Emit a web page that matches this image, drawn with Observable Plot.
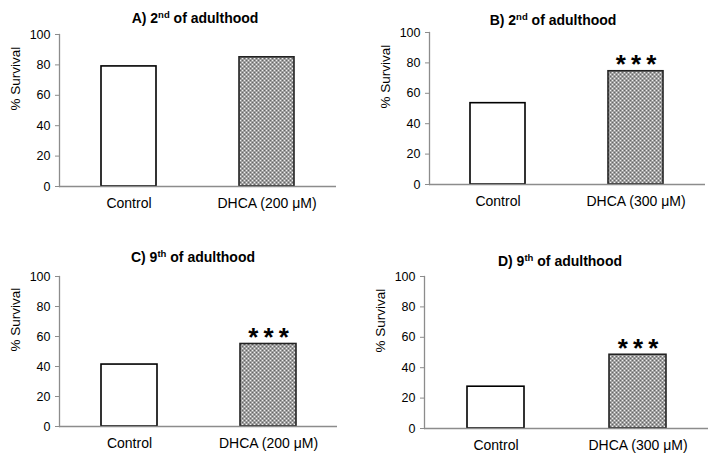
<!DOCTYPE html>
<html><head><meta charset="utf-8">
<script src="https://cdn.jsdelivr.net/npm/d3@7"></script>
<script src="https://cdn.jsdelivr.net/npm/@observablehq/plot@0.6"></script>
<style>
body{margin:0;background:#fff;font-family:"Liberation Sans",Arial,sans-serif;}
#root{position:relative;width:719px;height:461px;overflow:hidden;background:#fff}
.panel{position:absolute}
.title{position:absolute;font-weight:bold;font-size:14px;line-height:14px;white-space:nowrap;transform:translateX(-50%);color:#000}
.title sup{font-size:9.5px;line-height:9px;position:relative;top:-5px;vertical-align:baseline}
</style>
</head><body>
<div id="root"></div>
<script>
// ---- data ----
const panelLabels = ["A", "B", "C", "D"];
const dayNumbers = ["2", "2", "9", "9"];
const daySuffixes = ["nd", "nd", "th", "th"];
const doseLabels = ["200 μM", "300 μM", "200 μM", "300 μM"];
const controlSurvival = [79, 53.5, 41.3, 27.5];
const dhcaSurvival = [85, 74.5, 55, 48.5];
const significance = ["", "***", "***", "***"];
const yTicks = [0, 20, 40, 60, 80, 100];
const yLabel = "% Survival";

// ---- layout ----
const layout = [
  {left: 0,   top: 0,   width: 360, height: 230, ml: 59, mt: 34, mb: 44, mr: 24, tx: 195, ty: 23},
  {left: 360, top: 0,   width: 359, height: 230, ml: 69, mt: 32, mb: 46, mr: 14, tx: 193, ty: 25},
  {left: 0,   top: 230, width: 360, height: 231, ml: 59, mt: 46, mb: 35, mr: 23, tx: 193, ty: 32},
  {left: 360, top: 230, width: 359, height: 231, ml: 64, mt: 46, mb: 33, mr: 11, tx: 200, ty: 36}
];
const axisGray = "#8c8c8c";
const root = document.getElementById("root");

panelLabels.forEach((p, i) => {
  const L = layout[i];
  const data = [
    {label: "Control", v: controlSurvival[i]},
    {label: `DHCA (${doseLabels[i]})`, v: dhcaSurvival[i]}
  ];
  const chart = Plot.plot({
    width: L.width, height: L.height,
    marginLeft: L.ml, marginTop: L.mt, marginBottom: L.mb, marginRight: L.mr,
    style: {fontFamily: "'Liberation Sans', Arial, sans-serif", fontSize: "12px", color: "#000", background: "transparent", overflow: "visible"},
    x: {domain: data.map(d => d.label), paddingInner: 0.6, paddingOuter: 0.3, axis: null},
    y: {domain: [0, 100], axis: null},
    marks: [
      Plot.barY(data.slice(0, 1), {x: "label", y: "v", fill: "white", stroke: "#000", strokeWidth: 1.6}),
      Plot.barY(data.slice(1), {x: "label", y: "v", fill: `url(#hatch${i})`, stroke: "#222", strokeWidth: 1.6}),
      Plot.ruleY([0], {stroke: axisGray, strokeWidth: 1.3}),
      Plot.frame({anchor: "left", stroke: axisGray, strokeWidth: 1.3}),
      Plot.axisY({ticks: yTicks, tickSize: 4, tickPadding: 5, stroke: axisGray, fill: "#000", label: null, fontSize: 12.5}),
      Plot.axisX({tickSize: 0, tickPadding: 12, fill: "#000", label: null, fontSize: 14}),
      Plot.text([yLabel], {frameAnchor: "left", dx: -44, rotate: -90, fontSize: 13.5, fill: "#000"}),
      Plot.text(data.slice(1), {x: "label", y: "v", text: () => significance[i].split("").join("\u2009"), dy: 2, lineAnchor: "bottom", fontSize: 26, fontWeight: "bold", fill: "#000"})
    ]
  });
  // hatch pattern
  const svg = d3.select(chart);
  const pat = svg.insert("defs", ":first-child").append("pattern")
    .attr("id", `hatch${i}`).attr("patternUnits", "userSpaceOnUse")
    .attr("width", 4).attr("height", 4);
  pat.append("rect").attr("width", 4).attr("height", 4).attr("fill", "#a0a0a0");
  pat.append("rect").attr("x", 0).attr("y", 0).attr("width", 1).attr("height", 1).attr("fill", "#eeeeee");
  pat.append("rect").attr("x", 2).attr("y", 2).attr("width", 1).attr("height", 1).attr("fill", "#eeeeee");
  pat.append("rect").attr("x", 2).attr("y", 0).attr("width", 1).attr("height", 1).attr("fill", "#666666");
  pat.append("rect").attr("x", 0).attr("y", 2).attr("width", 1).attr("height", 1).attr("fill", "#666666");

  chart.classList.add("panel");
  chart.style.left = L.left + "px";
  chart.style.top = L.top + "px";
  root.appendChild(chart);

  const t = document.createElement("div");
  t.className = "title";
  t.style.left = (L.left + L.tx) + "px";
  t.style.top = (L.top + L.ty - 12) + "px";
  t.innerHTML = `${p}) ${dayNumbers[i]}<sup>${daySuffixes[i]}</sup> of adulthood`;
  root.appendChild(t);
});
</script>
</body></html>
